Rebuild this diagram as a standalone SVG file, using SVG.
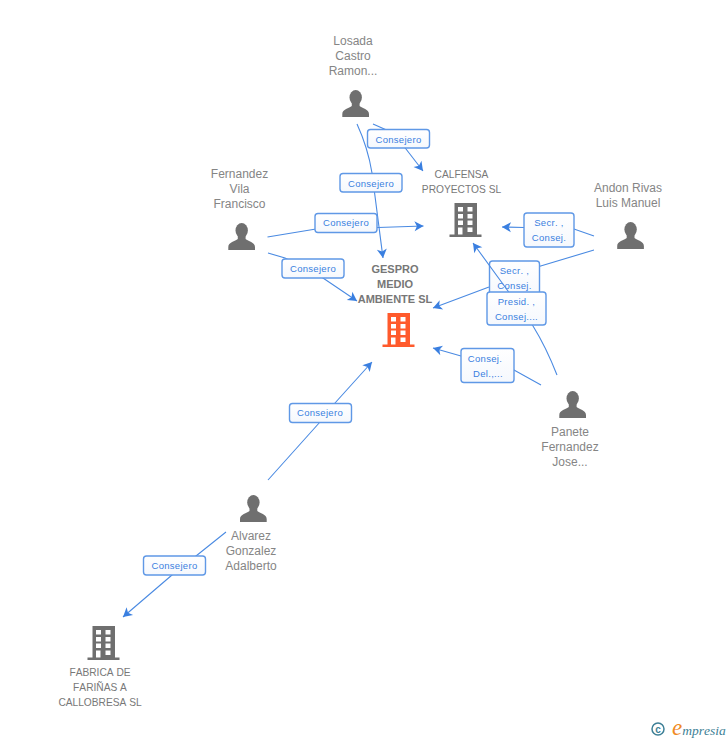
<svg xmlns="http://www.w3.org/2000/svg" xmlns:xlink="http://www.w3.org/1999/xlink" width="728" height="740" viewBox="0 0 728 740">
<style>
text{font-family:"Liberation Sans",Arial,sans-serif;text-anchor:middle;font-kerning:none}
.person{font-size:12px;fill:#858585}
.company{font-size:10.200px;fill:#787878}
.main{font-size:11px;font-weight:bold;fill:#777}
.lbl{font-size:9.500px;fill:#3a7fe0;letter-spacing:.3px}
.box{fill:url(#boxfill);stroke:#5f98e6;stroke-width:1.4}
.line{fill:none;stroke:#4a8ae2;stroke-width:1.1}
.end{marker-end:url(#arrow)}
</style>
<defs>
<linearGradient id="boxfill" x1="0" y1="0" x2="0" y2="1"><stop offset="0" stop-color="#fff"/><stop offset="1" stop-color="#f5f8fd"/></linearGradient>
<marker id="arrow" markerUnits="userSpaceOnUse" markerWidth="12" markerHeight="12" viewBox="-1 -6 12 12" refX="9" refY="0" orient="auto"><path d="M0,-5 L9,0 L0,5 L2.4,0 Z" fill="#3a7fe0"/></marker>
<g id="personIcon"><ellipse cx="13.4" cy="7.5" rx="6.2" ry="7.5"/><path d="M9.5,13 L9.5,16 C7,18.5 0,19 0,24 L0,27 L26.7,27 L26.7,24 C26.7,19 19.7,18.5 17.3,16 L17.3,13 Z"/></g>
<path id="buildingIcon" fill-rule="evenodd" d="M5,0 H27.500 V31.500 H32 V34 H0 V31.500 H5 Z M8.500,4 V8.500 H13.500 V4 Z M18,4 V8.500 H23 V4 Z M8.500,11 V15.500 H13.500 V11 Z M18,11 V15.500 H23 V11 Z M8.500,17.500 V22 H13.500 V17.500 Z M18,17.500 V22 H23 V17.500 Z M8.500,24.500 V31.500 H13 V24.500 Z M18,24.500 V29 H23 V24.500 Z"/>
</defs>
<g id="connectors">
<path class="line end" d="M357,124 Q368,148 372,173 L383,258"/>
<path class="line end" d="M373,124 L391,132 Q399,140 406,149 L423,171"/>
<path class="line end" d="M267.500,237 L316,229 L378,227.500 L423.500,226"/>
<path class="line end" d="M268,253 L285,258 L323,278 L357,301"/>
<path class="line end" d="M594,236 L574,229 L524,227.500 L502,227"/>
<path class="line end" d="M594,250 L539,266.500 L489,287 L433,308"/>
<path class="line end" d="M541,385 L514,370 L461,356 L433,348"/>
<path class="line end" d="M268,480 L320,422 L335,403 L372,362"/>
<path class="line end" d="M226,532 L196,556 L172,575 L123,617"/>
<g id="l1"><rect class="box" x="367.500" y="129.500" width="62" height="18.500" rx="3"/><text class="lbl" x="398.500" y="142.500">Consejero</text></g>
<g id="l2"><rect class="box" x="340" y="173.500" width="62" height="18.500" rx="3"/><text class="lbl" x="371" y="186.500">Consejero</text></g>
<g id="l3"><rect class="box" x="315" y="213.500" width="62" height="19" rx="3"/><text class="lbl" x="346" y="226">Consejero</text></g>
<g id="l4"><rect class="box" x="282" y="259" width="62" height="19" rx="3"/><text class="lbl" x="313" y="272">Consejero</text></g>
<g id="l5"><rect class="box" x="524" y="213" width="50" height="34" rx="3"/><text class="lbl" x="549" y="226">Secr. ,</text><text class="lbl" x="549" y="241">Consej.</text></g>
<g id="l6"><rect class="box" x="489.500" y="261" width="50" height="36" rx="3"/><text class="lbl" x="514.500" y="274">Secr. ,</text><text class="lbl" x="514.500" y="289">Consej.</text></g>
<path class="line end" d="M557,375 Q546,347 533,326 L508,291 L473,243"/>
<g id="l7"><rect class="box" x="487" y="292" width="59" height="33" rx="3"/><text class="lbl" x="516.500" y="305">Presid. ,</text><text class="lbl" x="516.500" y="320">Consej....</text></g>
<g id="l8"><rect class="box" x="461" y="348.500" width="53" height="34" rx="3"/><text class="lbl" x="485" y="362">Consej.</text><text class="lbl" x="488" y="377">Del.,...</text></g>
<g id="l9"><rect class="box" x="289.500" y="403.500" width="62" height="19" rx="3"/><text class="lbl" x="320" y="416">Consejero</text></g>
<g id="l10"><rect class="box" x="143.500" y="556" width="62" height="19" rx="3"/><text class="lbl" x="174.500" y="569">Consejero</text></g>
</g>
<g id="node-losada"><use href="#personIcon" x="342.300" y="90" fill="#6f6f6f"/><text class="person" x="353" y="45">Losada</text><text class="person" x="353" y="60">Castro</text><text class="person" x="353" y="75">Ramon...</text></g>
<g id="node-fernandez"><use href="#personIcon" x="228.300" y="223" fill="#6f6f6f"/><text class="person" x="239.500" y="178">Fernandez</text><text class="person" x="239.500" y="193">Vila</text><text class="person" x="239.500" y="208">Francisco</text></g>
<g id="node-andon"><use href="#personIcon" x="617.200" y="222" fill="#6f6f6f"/><text class="person" x="628" y="192">Andon Rivas</text><text class="person" x="628" y="207">Luis Manuel</text></g>
<g id="node-panete"><use href="#personIcon" x="559.300" y="391" fill="#6f6f6f"/><text class="person" x="570" y="436">Panete</text><text class="person" x="570" y="451">Fernandez</text><text class="person" x="570" y="466">Jose...</text></g>
<g id="node-alvarez"><use href="#personIcon" x="240" y="495" fill="#6f6f6f"/><text class="person" x="251" y="540">Alvarez</text><text class="person" x="251" y="555">Gonzalez</text><text class="person" x="251" y="570">Adalberto</text></g>
<g id="node-calfensa"><use href="#buildingIcon" x="449.500" y="203" fill="#6f6f6f"/><text class="company" x="461.500" y="178">CALFENSA</text><text class="company" x="461.500" y="193">PROYECTOS SL</text></g>
<g id="node-gespro"><use href="#buildingIcon" x="382.500" y="313" fill="#ff5a2c"/><text class="main" x="395" y="273">GESPRO</text><text class="main" x="395" y="288">MEDIO</text><text class="main" x="395" y="303">AMBIENTE SL</text></g>
<g id="node-fabrica"><use href="#buildingIcon" x="87.500" y="626" fill="#6f6f6f"/><text class="company" x="100" y="676">FABRICA DE</text><text class="company" x="100" y="691">FARIÑAS A</text><text class="company" x="100" y="706">CALLOBRESA SL</text></g>
<g id="logo"><circle cx="658" cy="729" r="6" fill="none" stroke="#3d7f96" stroke-width="1.500"/><text x="658" y="732.500" font-size="10" font-weight="bold" fill="#3d7f96">c</text><text x="672" y="734.500" font-size="13.500" font-style="italic" style="font-family:'Liberation Serif',serif;text-anchor:start" fill="#3d7f96"><tspan font-size="23" fill="#f08a24">e</tspan>mpresia</text></g>
</svg>
